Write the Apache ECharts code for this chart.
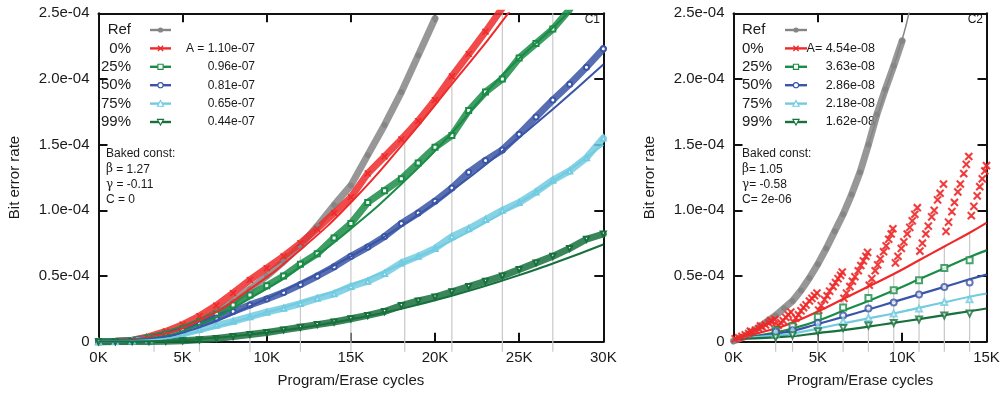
<!DOCTYPE html>
<html>
<head>
<meta charset="utf-8">
<script src="https://cdn.jsdelivr.net/npm/echarts@6/dist/echarts.min.js"></script>
<style>
  html, body { margin: 0; padding: 0; background: #fff; }
  #chart { width: 1007px; height: 399px; }
</style>
</head>
<body>
<div id="chart"></div>
<script>
// Bit error rates are kept in units of 1e-5, P/E cycles in thousands.

// ---- C1: measured bands (one value per 1K cycles) ----
const c1K = [0,1,2,3,4,5,6,7,8,9,10,11,12,13,14,15,16,17,18,19,20,21,22,23,24,25,26,27,28,29,30];
const c1Ref = [0,0.02,0.08,0.25,0.55,0.95,1.5,2.2,3.05,4.0,5.0,6.1,7.3,8.8,10.4,11.9,14.2,16.5,19.0,21.8,24.6];
const c1P0  = [0,0.03,0.12,0.38,0.78,1.3,1.95,2.75,3.7,4.7,5.6,6.5,7.5,8.6,9.8,11.0,12.8,14.1,15.4,16.8,18.4,20.2,21.9,23.6,25.4];
const c1P25 = [0,0.02,0.1,0.3,0.58,0.98,1.5,2.1,2.8,3.55,4.25,5.0,5.9,6.7,7.9,9.0,10.6,11.5,12.4,13.6,14.8,15.7,17.6,19.0,20.0,21.6,22.7,23.8,25.3];
const c1P50 = [0,0.01,0.08,0.2,0.45,0.85,1.35,1.8,2.3,2.8,3.25,3.75,4.35,5.0,5.7,6.5,7.2,8.0,9.0,9.8,10.7,11.7,12.9,13.8,14.6,15.8,17.1,18.4,19.6,20.9,22.3];
const c1P75 = [0,0.01,0.05,0.15,0.33,0.6,0.92,1.25,1.55,1.9,2.25,2.55,2.9,3.3,3.65,4.2,4.6,5.2,6.0,6.5,7.1,8.0,8.6,9.3,10.0,10.6,11.4,12.3,13.0,14.0,15.5];
const c1P99 = [0,0,0.01,0.02,0.04,0.08,0.15,0.25,0.4,0.55,0.7,0.9,1.1,1.3,1.5,1.75,2.0,2.3,2.75,3.1,3.4,3.8,4.2,4.6,5.0,5.5,6.0,6.5,7.1,7.8,8.2];

// ---- C1: model curves ----
const c1FitK   = [0,3,6,9,12,15,18,21,24,27,30];
const c1FitP0  = [0,0.35,1.6,4.0,7.0,10.6,14.9,19.6,24.4,29.9,null];
const c1FitP25 = [0,0.25,1.3,3.3,5.7,8.6,12.0,15.9,20.3,23.9,27.6];
const c1FitP50 = [0,0.2,1.1,2.7,4.5,6.5,8.8,11.5,14.5,17.7,21.1];
const c1FitP75 = [0,0.12,0.8,1.85,3.0,4.3,5.9,7.7,9.8,12.2,15.0];
const c1FitP99 = [0,0.03,0.2,0.55,1.05,1.7,2.5,3.5,4.65,5.95,7.4];

// ---- C1: sample guide lines ----
const c1DropK   = [3.3,6,9,12,15,18.2,21,24,27];
const c1DropTop = [0.3,1.2,3.4,6.5,10.8,15.3,20.3,25,25];

// ---- C2: model curves at the sample points ----
const c2FitK   = [0,2.5,3.5,5,6.5,8,9.5,11,12.5,14,15];
const c2FitP0  = [0.2,1.0,1.45,2.3,3.25,4.2,5.15,6.2,7.25,8.3,9.05];
const c2FitP25 = [0.2,0.7,1.0,1.6,2.35,3.1,3.9,4.75,5.6,6.45,6.95];
const c2FitP50 = [0.2,0.6,0.82,1.35,1.89,2.45,3.03,3.6,4.17,4.75,5.11];
const c2FitP75 = [0.2,0.48,0.62,1.0,1.39,1.77,2.15,2.58,3.0,3.42,3.67];
const c2FitP99 = [0.2,0.33,0.42,0.65,0.875,1.15,1.43,1.72,2.02,2.32,2.53];

// ---- C2: measured points ----
const c2SampleK = [2.5,3.5,5,6.5,8,9.5,11,12.5,14];
const c2P25 = [0.875,1.18,1.89,2.6,3.33,3.92,4.68,5.62,6.2];
const c2P50 = [0.75,0.875,1.43,1.99,2.52,2.98,3.59,4.17,4.5];
const c2P75 = [0.62,0.75,1.13,1.56,1.81,2.14,2.52,3.03,3.23];
const c2P99 = [0.32,0.49,0.8,1.05,1.23,1.43,1.69,1.99,2.14];

const c2RefK = [0,0.5,1,1.5,2,2.5,3,3.5,4,4.5,5,5.5,6,6.5,7,7.5,8,8.5,9,9.5,10];
const c2Ref  = [0.05,0.3,0.65,1.1,1.55,2.0,2.55,3.1,3.9,4.85,5.9,7.1,8.4,9.7,11.2,12.9,15.0,17.3,19.2,21.0,22.9];
const c2RefFitK = [8,9,10,10.5];
const c2RefFit  = [15.0,19.1,23.0,25.6];

// 0% retention errors, read between refreshes: [kcycles, BER]
const c2P0 = [
  [0.1,0.22],[0.3,0.3],[0.5,0.4],[0.7,0.52],[0.9,0.62],[1.0,0.8],[1.1,0.75],[1.3,0.88],[1.5,1.0],[1.6,1.2],
  [1.7,1.15],[1.9,1.28],[2.1,1.42],[2.2,1.6],[2.3,1.55],[2.45,1.7],
  [2.55,1.05],[2.65,1.25],[2.8,1.45],[2.95,1.6],[3.1,1.85],[3.25,2.05],[3.4,2.25],
  [3.55,1.5],[3.7,1.8],[3.85,2.05],[4.0,2.35],[4.15,2.6],[4.3,2.8],[4.5,3.1],[4.65,3.3],[4.8,3.5],[4.95,3.7],
  [5.05,2.4],[5.2,2.75],[5.4,3.2],[5.55,3.5],[5.7,3.85],[5.9,4.2],[6.05,4.5],[6.2,4.8],[6.35,5.05],[6.45,5.3],
  [6.55,3.3],[6.7,3.7],[6.9,4.2],[7.05,4.6],[7.2,4.95],[7.4,5.4],[7.55,5.8],[7.7,6.15],[7.85,6.5],[7.95,6.8],
  [8.05,4.3],[8.2,4.8],[8.4,5.4],[8.55,5.85],[8.7,6.3],[8.9,6.85],[9.05,7.3],[9.2,7.8],[9.35,8.2],[9.45,8.6],
  [9.6,6.0],[9.75,6.5],[9.95,7.1],[10.1,7.6],[10.3,8.2],[10.45,8.7],[10.6,9.2],[10.75,9.7],[10.9,10.2],
  [11.05,6.9],[11.2,7.5],[11.4,8.2],[11.55,8.8],[11.75,9.5],[11.9,10.0],[12.1,10.8],[12.25,11.3],[12.45,12.0],
  [12.6,8.4],[12.75,9.1],[12.95,9.9],[13.1,10.6],[13.3,11.4],[13.45,12.0],[13.65,12.8],[13.8,13.5],[13.95,14.1],
  [14.1,9.6],[14.25,10.3],[14.45,11.1],[14.6,11.8],[14.75,12.4],[14.9,13.0],[15.0,13.4]
];

// ---- legend / annotation text ----
const legendNames = ['Ref','0%','25%','50%','75%','99%'];
const legendKeys  = ['ref','p0','p25','p50','p75','p99'];
const c1Coef = ['', 'A = 1.10e-07', '0.96e-07', '0.81e-07', '0.65e-07', '0.44e-07'];
const c2Coef = ['', 'A= 4.54e-08', '3.63e-08', '2.86e-08', '2.18e-08', '1.62e-08'];
const c1Const = ['Baked const:', '{g|β} = 1.27', '{g|γ} = -0.11', 'C = 0'];
const c2Const = ['Baked const:', '{g|β}= 1.05', '{g|γ}= -0.58', 'C= 2e-06'];
const yTicks = [0,5,10,15,20,25];

const FONT = '"Liberation Sans", Arial, Helvetica, sans-serif';
const INK = '#1a1a1a';
const COL = {
  ref: '#858585', p0: '#ee2a2a', p25: '#1b8c47', p50: '#3a55a5',
  p75: '#72cbe0', p99: '#18703d', drop: '#c8c8c8'
};
const SYM = {
  ref: 'circle',
  p0: 'path://M1,0L5,4L9,0L10,1L6,5L10,9L9,10L5,6L1,10L0,9L4,5L0,1Z',
  p25: 'emptyRect', p50: 'emptyCircle', p75: 'emptyTriangle', p99: 'emptyTriangle'
};

const pairs = (ks, vs) => vs.map((v, i) => [ks[i], v]);

function xAxes(gi, max) {
  const base = {
    type: 'value', gridIndex: gi, min: 0, max: max, interval: 5,
    splitLine: { show: false },
    axisLine: { show: true, onZero: false, lineStyle: { color: '#111', width: 2 } },
    axisTick: { show: true, inside: true, length: 9, lineStyle: { color: '#111', width: 2 } }
  };
  return [
    Object.assign({}, base, {
      position: 'bottom', name: 'Program/Erase cycles', nameLocation: 'middle', nameGap: 32,
      nameTextStyle: { fontFamily: FONT, fontSize: 15, color: INK },
      axisLabel: { margin: 9, fontFamily: FONT, fontSize: 15, color: INK, formatter: v => v + 'K' }
    }),
    Object.assign({}, base, { position: 'top', axisLabel: { show: false } })
  ];
}
function yAxes(gi) {
  const base = {
    type: 'value', gridIndex: gi, min: yTicks[0], max: yTicks[yTicks.length - 1], interval: yTicks[1] - yTicks[0],
    splitLine: { show: false },
    axisLine: { show: true, onZero: false, lineStyle: { color: '#111', width: 2 } },
    axisTick: { show: true, inside: true, length: 9, lineStyle: { color: '#111', width: 2 } }
  };
  return [
    Object.assign({}, base, {
      position: 'left', name: 'Bit error rate', nameLocation: 'middle', nameGap: 76,
      nameTextStyle: { fontFamily: FONT, fontSize: 15, color: INK },
      axisLabel: { margin: 9, fontFamily: FONT, fontSize: 15, color: INK,
        formatter: v => v === 0 ? '0' : (v / 10).toFixed(1) + 'e-04' }
    }),
    Object.assign({}, base, { position: 'right', axisLabel: { show: false } })
  ];
}

// measured band: thick translucent trace with its markers
function band(xi, yi, key, ks, vs) {
  return {
    type: 'line', xAxisIndex: xi, yAxisIndex: yi, data: pairs(ks, vs), z: 2,
    symbol: SYM[key], symbolSize: key === 'p0' ? 6 : 5, symbolRotate: key === 'p99' ? 180 : 0,
    showAllSymbol: true,
    lineStyle: { color: COL[key], width: 7, opacity: 0.85, cap: 'round', join: 'round' },
    itemStyle: { color: COL[key], borderColor: COL[key], borderWidth: 1 }
  };
}
function fit(xi, yi, key, ks, vs, width) {
  return {
    type: 'line', xAxisIndex: xi, yAxisIndex: yi, data: pairs(ks, vs), z: 3,
    smooth: true, symbol: 'none', connectNulls: false,
    lineStyle: { color: COL[key], width: width }
  };
}
function points(xi, yi, key, ks, vs, size) {
  return {
    type: 'scatter', xAxisIndex: xi, yAxisIndex: yi, data: ks ? pairs(ks, vs) : vs, z: 4,
    symbol: SYM[key], symbolSize: size, symbolRotate: key === 'p99' ? 180 : 0,
    itemStyle: { color: COL[key], borderColor: COL[key], borderWidth: 1.2 }
  };
}
function drops(xi, yi, ks, tops) {
  return {
    type: 'custom', xAxisIndex: xi, yAxisIndex: yi, clip: false, z: 1, silent: true,
    data: pairs(ks, tops),
    renderItem: function (params, api) {
      const top = api.coord([api.value(0), api.value(1)]);
      const base = api.coord([api.value(0), 0]);
      return {
        type: 'line',
        shape: { x1: top[0], y1: top[1], x2: base[0], y2: base[1] + 10 },
        style: { stroke: COL.drop, lineWidth: 1.2 }
      };
    }
  };
}

// ---- legend glyphs ----
function glyph(key, cx, cy) {
  const c = COL[key], s = 2.6;
  const hollow = { fill: '#fff', stroke: c, lineWidth: 1.1 };
  switch (key) {
    case 'ref': return { type: 'circle', shape: { cx, cy, r: 2.6 }, style: { fill: c } };
    case 'p0': return { type: 'group', children: [
      { type: 'line', shape: { x1: cx - s, y1: cy - s, x2: cx + s, y2: cy + s }, style: { stroke: c, lineWidth: 1.3 } },
      { type: 'line', shape: { x1: cx - s, y1: cy + s, x2: cx + s, y2: cy - s }, style: { stroke: c, lineWidth: 1.3 } }
    ] };
    case 'p25': return { type: 'rect', shape: { x: cx - s, y: cy - s, width: 2 * s, height: 2 * s }, style: hollow };
    case 'p50': return { type: 'circle', shape: { cx, cy, r: s }, style: hollow };
    case 'p75': return { type: 'polygon', shape: { points: [[cx, cy - s - 0.5], [cx + s + 0.5, cy + s], [cx - s - 0.5, cy + s]] }, style: hollow };
    default:    return { type: 'polygon', shape: { points: [[cx, cy + s + 0.5], [cx + s + 0.5, cy - s], [cx - s - 0.5, cy - s]] }, style: hollow };
  }
}
function legendBlock(opt) {
  const out = [];
  legendNames.forEach((name, i) => {
    const y = 30 + 18.4 * i;
    out.push({ type: 'text', style: { x: opt.nameX, y, text: name, textAlign: opt.nameAlign, textVerticalAlign: 'middle',
      font: '15px ' + FONT, fill: INK } });
    out.push({ type: 'line', shape: { x1: opt.lineX1, y1: y, x2: opt.lineX2, y2: y },
      style: { stroke: COL[legendKeys[i]], lineWidth: 2.4 } });
    out.push(glyph(legendKeys[i], (opt.lineX1 + opt.lineX2) / 2, y));
    if (opt.coef[i]) {
      out.push({ type: 'text', style: { x: opt.coefX, y, text: opt.coef[i], textAlign: 'right', textVerticalAlign: 'middle',
        font: opt.coefSize + 'px ' + FONT, fill: INK } });
    }
  });
  opt.consts.forEach((t, i) => {
    out.push({ type: 'text', style: { x: opt.constX, y: 154 + 15.2 * i, text: t, textAlign: 'left', textVerticalAlign: 'middle',
      font: '12px ' + FONT, fill: INK, rich: { g: { fontFamily: '"DejaVu Serif", serif', fontSize: 12, fill: INK } } } });
  });
  out.push({ type: 'text', style: { x: opt.tagX, y: 20, text: opt.tag, textAlign: 'right', textVerticalAlign: 'middle',
    font: '12px ' + FONT, fill: INK } });
  return out;
}

const graphics = []
  .concat(legendBlock({ nameX: 131, nameAlign: 'right', lineX1: 150, lineX2: 171, coefX: 255, coefSize: 12,
    coef: c1Coef, consts: c1Const, constX: 106, tag: 'C1', tagX: 600 }))
  .concat(legendBlock({ nameX: 742, nameAlign: 'left', lineX1: 785, lineX2: 807, coefX: 875, coefSize: 12.5,
    coef: c2Coef, consts: c2Const, constX: 742, tag: 'C2', tagX: 983 }));

const option = {
  animation: false,
  backgroundColor: '#fff',
  textStyle: { fontFamily: FONT },
  grid: [
    { left: 98.5, top: 13.3, width: 504.8, height: 328.4, containLabel: false, outerBoundsMode: 'none' },
    { left: 733.5, top: 13.3, width: 253, height: 328.4, containLabel: false, outerBoundsMode: 'none' }
  ],
  xAxis: xAxes(0, 30).concat(xAxes(1, 15)),
  yAxis: yAxes(0).concat(yAxes(1)),
  graphic: graphics,
  series: [
    // C1
    drops(0, 0, c1DropK, c1DropTop),
    band(0, 0, 'ref', c1K, c1Ref),
    band(0, 0, 'p0', c1K, c1P0),
    band(0, 0, 'p25', c1K, c1P25),
    band(0, 0, 'p50', c1K, c1P50),
    band(0, 0, 'p75', c1K, c1P75),
    band(0, 0, 'p99', c1K, c1P99),
    fit(0, 0, 'p0', c1FitK, c1FitP0, 2),
    fit(0, 0, 'p25', c1FitK, c1FitP25, 2),
    fit(0, 0, 'p50', c1FitK, c1FitP50, 2),
    fit(0, 0, 'p75', c1FitK, c1FitP75, 2),
    fit(0, 0, 'p99', c1FitK, c1FitP99, 2),
    // C2
    drops(2, 2, c2SampleK, c2FitP0.slice(1, 10)),
    band(2, 2, 'ref', c2RefK, c2Ref),
    fit(2, 2, 'ref', c2RefFitK, c2RefFit, 1.5),
    points(2, 2, 'p0', null, c2P0, 7),
    fit(2, 2, 'p0', c2FitK, c2FitP0, 2.2),
    fit(2, 2, 'p25', c2FitK, c2FitP25, 2.2),
    fit(2, 2, 'p50', c2FitK, c2FitP50, 2.2),
    fit(2, 2, 'p75', c2FitK, c2FitP75, 2.2),
    fit(2, 2, 'p99', c2FitK, c2FitP99, 2.2),
    points(2, 2, 'p25', c2SampleK, c2P25, 6),
    points(2, 2, 'p50', c2SampleK, c2P50, 6),
    points(2, 2, 'p75', c2SampleK, c2P75, 6),
    points(2, 2, 'p99', c2SampleK, c2P99, 6)
  ]
};

const chart = echarts.init(document.getElementById('chart'), null, { renderer: 'canvas' });
chart.setOption(option);
</script>
</body>
</html>
